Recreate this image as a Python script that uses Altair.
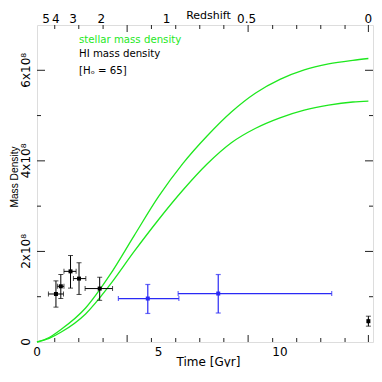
import altair as alt
import pandas as pd

# ---------------- data (time in Gyr, density in units of 1e8) ----------------
upper_t = [0, 0.5, 1, 2, 3, 4, 5, 6, 7, 8, 9, 10, 11, 12, 13, 13.64]
upper_v = [0, 0.10, 0.28, 0.75, 1.48, 2.35, 3.21, 3.94, 4.55, 5.08, 5.50, 5.80, 6.01, 6.14, 6.22, 6.26]
lower_t = [0, 0.5, 1, 2, 3, 4, 5, 6, 7, 8, 9, 10, 11, 12, 13, 13.64]
lower_v = [0, 0.08, 0.22, 0.62, 1.26, 2.00, 2.70, 3.35, 3.93, 4.40, 4.72, 4.95, 5.12, 5.23, 5.30, 5.32]

black_t = [0.78, 0.98, 1.38, 1.73, 2.58, 13.64]
black_t_lo = [0.47, 0.84, 1.11, 1.50, 1.98, 13.64]
black_t_hi = [1.09, 1.11, 1.61, 2.01, 3.11, 13.64]
black_v = [1.06, 1.23, 1.56, 1.40, 1.18, 0.46]
black_v_lo = [0.77, 0.96, 1.19, 1.05, 0.92, 0.35]
black_v_hi = [1.35, 1.49, 1.91, 1.75, 1.43, 0.57]

blue_t = [4.56, 7.46]
blue_t_lo = [3.35, 5.81]
blue_t_hi = [5.84, 12.13]
blue_v = [0.96, 1.07]
blue_v_lo = [0.63, 0.64]
blue_v_hi = [1.27, 1.49]

z_labels = ["5", "4", "3", "2", "1", "0.5", "0"]
z_t = [0.37, 0.77, 1.48, 2.65, 5.33, 8.63, 13.64]

tick_major_t = [3.71, 8.69, 13.64]
tick_minor_t = [0.73, 1.72, 2.72, 4.71, 5.71, 6.70, 7.69, 9.70, 10.69, 11.68, 12.68]
ytick_major = [2, 4, 6]
ytick_minor = [1, 3, 5]

x_labels = [0, 5, 10]
y_labels = [0, 2, 4, 6]
y_label_text = ["0", "2x10⁸", "4x10⁸", "6x10⁸"]

annot_text = ["stellar mass density", "HI mass density", "[Hₒ = 65]"]

# ---------------- styling ----------------
W, H = 336, 317
FONT = "DejaVu Sans"
GREEN = "#1ee81e"
BLUE = "#2a2af5"
BLACK = "#000000"
TC = "#222222"

xs = alt.Scale(domain=[0, 13.83], nice=False, zero=False)
ys = alt.Scale(domain=[0, 7], nice=False, zero=False)


def X(f):
    return alt.X(f, scale=xs, axis=None)


def Y(f):
    return alt.Y(f, scale=ys, axis=None)


curve_df = pd.concat([
    pd.DataFrame({"t": upper_t, "v": upper_v, "s": "upper"}),
    pd.DataFrame({"t": lower_t, "v": lower_v, "s": "lower"}),
])

curves = alt.Chart(curve_df).mark_line(color=GREEN, strokeWidth=1.3, interpolate="monotone").encode(
    x=X("t:Q"), y=Y("v:Q"), detail="s:N")


def points_layers(t, tlo, thi, v, vlo, vhi, color, sw):
    df = pd.DataFrame({"t": t, "tlo": tlo, "thi": thi, "v": v, "vlo": vlo, "vhi": vhi})
    base = alt.Chart(df)
    return [
        base.mark_rule(color=color, strokeWidth=sw).encode(x=X("tlo:Q"), x2="thi:Q", y=Y("v:Q")),
        base.mark_rule(color=color, strokeWidth=sw).encode(x=X("t:Q"), y=Y("vlo:Q"), y2="vhi:Q"),
        base.mark_tick(color=color, orient="vertical", size=5, thickness=sw).encode(x=X("tlo:Q"), y=Y("v:Q")),
        base.mark_tick(color=color, orient="vertical", size=5, thickness=sw).encode(x=X("thi:Q"), y=Y("v:Q")),
        base.mark_tick(color=color, orient="horizontal", size=5, thickness=sw).encode(x=X("t:Q"), y=Y("vlo:Q")),
        base.mark_tick(color=color, orient="horizontal", size=5, thickness=sw).encode(x=X("t:Q"), y=Y("vhi:Q")),
        base.mark_square(color=color, size=16, opacity=1).encode(x=X("t:Q"), y=Y("v:Q")),
    ]


black_layers = points_layers(black_t, black_t_lo, black_t_hi, black_v, black_v_lo, black_v_hi, BLACK, 1)
blue_layers = points_layers(blue_t, blue_t_lo, blue_t_hi, blue_v, blue_v_lo, blue_v_hi, BLUE, 1.2)

# inward frame ticks
tick_layers = []
for vals, L in [(tick_major_t, 7), (tick_minor_t, 4)]:
    src = alt.Chart(pd.DataFrame({"t": vals}))
    tick_layers.append(src.mark_rule(color=TC, strokeWidth=1).encode(
        x=X("t:Q"), y=alt.value(H), y2=alt.value(H - L)))
    tick_layers.append(src.mark_rule(color=TC, strokeWidth=1).encode(
        x=X("t:Q"), y=alt.value(0), y2=alt.value(L)))
for vals, L in [(ytick_major, 8), (ytick_minor, 4)]:
    src = alt.Chart(pd.DataFrame({"v": vals}))
    tick_layers.append(src.mark_rule(color=TC, strokeWidth=1).encode(
        y=Y("v:Q"), x=alt.value(0), x2=alt.value(L)))
    tick_layers.append(src.mark_rule(color=TC, strokeWidth=1).encode(
        y=Y("v:Q"), x=alt.value(W), x2=alt.value(W - L)))

txt = dict(font=FONT, color=BLACK, baseline="middle", align="center")

# bottom axis labels + title
x_lab = alt.Chart(pd.DataFrame({"t": x_labels})).mark_text(fontSize=12, **txt).encode(
    x=X("t:Q"), y=alt.value(H + 10), text=alt.Text("t:Q", format="d"))
x_title = alt.Chart(pd.DataFrame({"s": ["Time [Gyr]"]})).mark_text(fontSize=12, **txt).encode(
    x=alt.value(171.5), y=alt.value(H + 19.5), text="s:N")

# left axis labels + title (rotated)
y_lab = alt.Chart(pd.DataFrame({"v": y_labels, "s": y_label_text})).mark_text(
    fontSize=12, angle=270, **txt).encode(x=alt.value(-11), y=Y("v:Q"), text="s:N")
y_title = alt.Chart(pd.DataFrame({"s": ["Mass Density"]})).mark_text(
    font="Liberation Sans", fontSize=10.2, angle=270, color=BLACK, baseline="middle",
    align="center").encode(x=alt.value(-22.5), y=alt.value(152), text="s:N")

# redshift (top) labels and title
z_text = alt.Chart(pd.DataFrame({"t": z_t, "z": z_labels})).mark_text(fontSize=12, **txt).encode(
    x=X("t:Q"), y=alt.value(-6), text="z:N")
z_title = alt.Chart(pd.DataFrame({"s": ["Redshift"]})).mark_text(fontSize=11, **txt).encode(
    x=alt.value(171.5), y=alt.value(-9), text="s:N")

# annotations
annot_color = [GREEN, BLACK, BLACK]
annot_y = [15, 29, 46]
annots = []
for s, col, yy in zip(annot_text, annot_color, annot_y):
    annots.append(alt.Chart(pd.DataFrame({"s": [s]})).mark_text(
        font=FONT, fontSize=10.2, color=col, baseline="middle", align="left").encode(
        x=alt.value(42), y=alt.value(yy), text="s:N"))

chart = alt.layer(
    curves, *tick_layers, *black_layers, *blue_layers,
    x_lab, x_title, y_lab, y_title, z_text, z_title, *annots,
).properties(
    width=W, height=H,
    autosize=alt.AutoSizeParams(type="none"),
    padding={"left": 29, "top": 17, "right": 1, "bottom": 25},
).configure_view(stroke=TC, strokeWidth=1).configure(background="white")

chart.save("out.html", embed_options={"renderer": "svg", "actions": False})
